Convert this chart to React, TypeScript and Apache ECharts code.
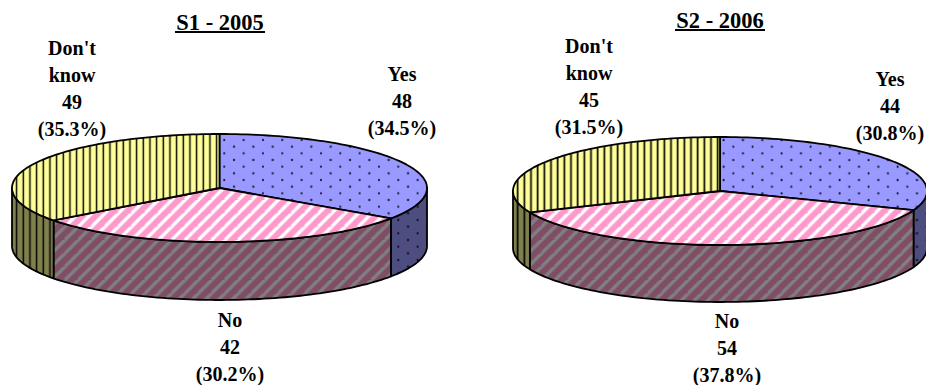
import React, { useEffect, useRef } from "react";
import * as echarts from "echarts";

const categories = ["Yes", "No", "Don't know"];
const s1Values = [48, 42, 49];
const s2Values = [44, 54, 45];
const s1Title = "S1 - 2005";
const s2Title = "S2 - 2006";

const FONT_FAMILY = '"Liberation Serif", "Times New Roman", serif';
const LABEL_FONT = `bold 20px ${FONT_FAMILY}`;

const topColors = ["#9999ff", "#ff99cc", "#ffff99"];
const wallColors = ["#4d4d80", "#804d66", "#80804d"];
const stripeOnTop = "#ffffff";
const stripeOnWall = "#808080";

// Tiles are painted at six times their on-screen size and scaled back down,
// which keeps the fractional periods below exact.
const OVERSAMPLE = 6;
const DOT_PERIOD: [number, number] = [116 / 6, 80 / 6];
const STRIPE_PERIOD = 80 / 6;
const BAR_PERIOD = 40 / 6;

function makeTile(w: number, h: number, bg: string, draw: (ctx: CanvasRenderingContext2D) => void) {
  const canvas = document.createElement("canvas");
  canvas.width = w;
  canvas.height = h;
  const ctx = canvas.getContext("2d")!;
  ctx.fillStyle = bg;
  ctx.fillRect(0, 0, w, h);
  draw(ctx);
  return canvas;
}

function asPattern(canvas: HTMLCanvasElement) {
  return { image: canvas, repeat: "repeat", scaleX: 1 / OVERSAMPLE, scaleY: 1 / OVERSAMPLE };
}

function dotPattern(bg: string, phaseX: number, phaseY: number) {
  const w = Math.round(DOT_PERIOD[0] * OVERSAMPLE);
  const h = Math.round(DOT_PERIOD[1] * OVERSAMPLE);
  const canvas = makeTile(w, h, bg, (ctx) => {
    ctx.fillStyle = "#000000";
    const r = 1.0 * OVERSAMPLE;
    const ox = ((phaseX * OVERSAMPLE) % w + w) % w;
    const oy = ((phaseY * OVERSAMPLE) % h + h) % h;
    for (const [sx, sy] of [[0, 0], [w / 2, h / 2]]) {
      for (const tx of [-w, 0, w]) {
        for (const ty of [-h, 0, h]) {
          ctx.beginPath();
          ctx.arc(((ox + sx) % w) + tx, ((oy + sy) % h) + ty, r, 0, Math.PI * 2);
          ctx.fill();
        }
      }
    }
  });
  return asPattern(canvas);
}

function stripePattern(bg: string, stripe: string, phase: number) {
  const size = Math.round(STRIPE_PERIOD * OVERSAMPLE);
  const canvas = makeTile(size, size, bg, (ctx) => {
    ctx.strokeStyle = stripe;
    ctx.lineWidth = 3.4 * OVERSAMPLE;
    const start = ((phase * OVERSAMPLE) % size + size) % size;
    for (let k = -2; k <= 3; k++) {
      const c = start + k * size;
      ctx.beginPath();
      ctx.moveTo(c + size, -size);
      ctx.lineTo(c - size, size);
      ctx.stroke();
    }
  });
  return asPattern(canvas);
}

function barPattern(bg: string, phase: number) {
  const w = Math.round(BAR_PERIOD * OVERSAMPLE);
  const canvas = makeTile(w, 12, bg, (ctx) => {
    ctx.fillStyle = "#000000";
    const barWidth = 1.6 * OVERSAMPLE;
    const x = ((phase * OVERSAMPLE) % w + w) % w;
    ctx.fillRect(x - barWidth / 2, 0, barWidth, 12);
    ctx.fillRect(x - barWidth / 2 - w, 0, barWidth, 12);
    ctx.fillRect(x - barWidth / 2 + w, 0, barWidth, 12);
  });
  return asPattern(canvas);
}

interface PieGeometry {
  cx: number;
  cy: number;
  rx: number;
  ry: number;
  depth: number;
  labels: [number, number][];
  dots: [number, number];
  stripes: number;
  bars: number;
}

const s1Geometry: PieGeometry = {
  cx: 219.5, cy: 188, rx: 207.5, ry: 54, depth: 58,
  labels: [[402, 74], [230, 320], [72, 48]],
  dots: [350, 173.3],
  stripes: 411.7,
  bars: 203.3,
};
const s2Geometry: PieGeometry = {
  cx: 720, cy: 191, rx: 207, ry: 54, depth: 57,
  labels: [[890, 79], [727, 321], [589, 46]],
  dots: [733.3, 146.7],
  stripes: 915,
  bars: 711,
};

// Parametric point on the top ellipse, angle in degrees clockwise from twelve o'clock.
function rimPoint(g: PieGeometry, deg: number, drop = 0): [number, number] {
  const a = (deg * Math.PI) / 180;
  return [g.cx + g.rx * Math.sin(a), g.cy - g.ry * Math.cos(a) + drop];
}

function arcPoints(g: PieGeometry, from: number, to: number, drop = 0) {
  const steps = Math.max(2, Math.ceil((to - from) / 1.5));
  const pts: [number, number][] = [];
  for (let i = 0; i <= steps; i++) pts.push(rimPoint(g, from + ((to - from) * i) / steps, drop));
  return pts;
}

function pieSeries(values: number[], g: PieGeometry) {
  const total = values.reduce((a, b) => a + b, 0);
  const topFills = [
    dotPattern(topColors[0], g.dots[0], g.dots[1]),
    stripePattern(topColors[1], stripeOnTop, g.stripes),
    barPattern(topColors[2], g.bars),
  ];
  const wallFills = [
    dotPattern(wallColors[0], g.dots[0], g.dots[1]),
    stripePattern(wallColors[1], stripeOnWall, g.stripes),
    barPattern(wallColors[2], g.bars),
  ];
  const edge = { stroke: "#000000", lineWidth: 1.8, lineJoin: "round" };

  return {
    type: "custom",
    coordinateSystem: "none",
    silent: true,
    data: values.map((v, i) => ({ name: categories[i], value: [v] })),
    renderItem: (params: any, api: any) => {
      const i = params.dataIndex;
      const before = values.slice(0, i).reduce((a, b) => a + b, 0);
      const value = api.value(0) as number;
      const start = (before / total) * 360;
      const end = ((before + value) / total) * 360;
      const children: any[] = [];

      const wallFrom = Math.max(start, 90);
      const wallTo = Math.min(end, 270);
      if (wallTo > wallFrom) {
        const upper = arcPoints(g, wallFrom, wallTo);
        const lower = arcPoints(g, wallFrom, wallTo, g.depth).reverse();
        children.push({
          type: "polygon",
          shape: { points: [...upper, ...lower] },
          style: { fill: wallFills[i], ...edge },
        });
      }

      children.push({
        type: "polygon",
        shape: { points: [[g.cx, g.cy], ...arcPoints(g, start, end)] },
        style: { fill: topFills[i], ...edge },
      });

      const [lx, ly] = g.labels[i];
      const pct = ((value / total) * 100).toFixed(1);
      const name = categories[i].replace(" ", "\n");
      children.push({
        type: "text",
        style: {
          x: lx,
          y: ly - 13.5,
          text: `${name}\n${value}\n(${pct}%)`,
          font: LABEL_FONT,
          fill: "#000000",
          align: "center",
          verticalAlign: "top",
          lineHeight: 27,
        },
      });

      return { type: "group", children };
    },
  };
}

function titleOption(text: string, centre: number, top: number) {
  return {
    text,
    left: centre,
    top,
    textAlign: "center",
    padding: 0,
    textStyle: { fontFamily: FONT_FAMILY, fontWeight: "bold", fontSize: 22.5, color: "#000000", lineHeight: 24 },
  };
}

function underline(x1: number, x2: number, y: number) {
  return { type: "rect", shape: { x: x1, y, width: x2 - x1, height: 2 }, style: { fill: "#000000" } };
}

export default function App() {
  const ref = useRef<HTMLDivElement>(null);

  useEffect(() => {
    const chart = echarts.init(ref.current!, undefined, { renderer: "svg" });
    chart.setOption({
      animation: false,
      backgroundColor: "#ffffff",
      title: [titleOption(s1Title, 220, 10), titleOption(s2Title, 720, 8)],
      graphic: [underline(175, 265, 31), underline(675, 765, 29)],
      series: [pieSeries(s1Values, s1Geometry), pieSeries(s2Values, s2Geometry)],
    });
    return () => chart.dispose();
  }, []);

  return <div ref={ref} style={{ position: "fixed", left: 0, top: 0, width: 926, height: 385 }} />;
}
